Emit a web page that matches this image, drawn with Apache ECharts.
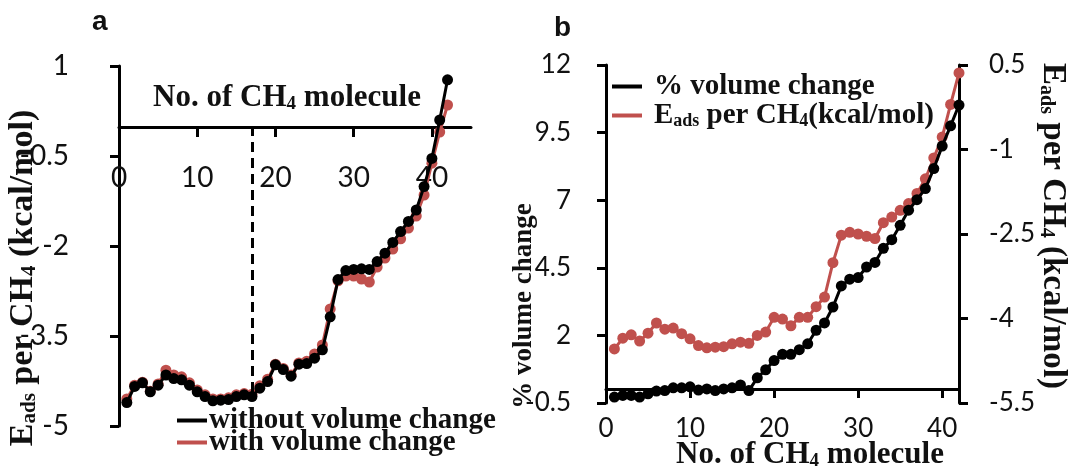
<!DOCTYPE html>
<html>
<head>
<meta charset="utf-8">
<script src="https://cdn.jsdelivr.net/npm/echarts@6/dist/echarts.min.js"></script>
<style>
html,body{margin:0;padding:0;background:#fff;}
#c{width:1069px;height:469px;}
</style>
</head>
<body>
<div id="c"></div>
<script>
// ---------- data ----------
const molecules = [1,2,3,4,5,6,7,8,9,10,11,12,13,14,15,16,17,18,19,20,21,22,23,24,25,26,27,28,29,30,31,32,33,34,35,36,37,38,39,40,41,42];

// panel a: Eads per CH4 (kcal/mol)
const aWithoutVol = [-4.61,-4.34,-4.28,-4.43,-4.32,-4.15,-4.21,-4.23,-4.32,-4.43,-4.51,-4.58,-4.57,-4.56,-4.51,-4.48,-4.51,-4.37,-4.26,-3.98,-4.06,-4.17,-3.97,-3.96,-3.87,-3.73,-3.18,-2.56,-2.41,-2.39,-2.38,-2.39,-2.26,-2.12,-1.94,-1.76,-1.59,-1.40,-1.01,-0.54,0.10,0.77];
const aWithVol = [-4.55,-4.32,-4.27,-4.42,-4.30,-4.07,-4.15,-4.18,-4.28,-4.40,-4.48,-4.55,-4.55,-4.53,-4.48,-4.46,-4.47,-4.33,-4.22,-3.97,-4.04,-4.15,-3.95,-3.92,-3.80,-3.65,-3.05,-2.58,-2.50,-2.50,-2.55,-2.60,-2.35,-2.20,-2.05,-1.88,-1.70,-1.50,-1.15,-0.62,-0.10,0.35];
const aDashedAt = 17;

// panel b
const bVolumeChange = [-0.28,-0.22,-0.22,-0.28,-0.16,-0.06,-0.04,0.06,0.06,0.10,-0.02,0.02,-0.04,0.02,0.06,0.17,-0.04,0.43,0.73,1.07,1.30,1.30,1.47,1.69,2.19,2.46,3.05,3.83,4.08,4.14,4.53,4.70,5.22,5.54,6.07,6.63,7.02,7.43,8.17,9.00,9.75,10.52];
const bEads = [-4.54,-4.35,-4.29,-4.40,-4.26,-4.08,-4.19,-4.17,-4.27,-4.36,-4.48,-4.52,-4.51,-4.50,-4.45,-4.42,-4.44,-4.30,-4.24,-3.98,-4.01,-4.13,-3.98,-3.98,-3.79,-3.62,-3.01,-2.52,-2.47,-2.50,-2.54,-2.58,-2.30,-2.20,-2.08,-1.96,-1.78,-1.52,-1.15,-0.78,-0.20,0.36];

// tick labels
const aXTicks = [0,10,20,30,40];
const aYTicks = [-5,-3.5,-2,-0.5,1];
const bXTicks = [0,10,20,30,40];
const bLeftTicks = [-0.5,2,4.5,7,9.5,12];
const bRightTicks = [-5.5,-4,-2.5,-1,0.5];

// names
const nameA1 = 'without volume change';
const nameA2 = 'with volume change';
const nameB1 = '% volume change';
const nameB2 = 'Eads per CH4(kcal/mol)';

// ---------- style ----------
const RED = '#c0504d';
const BLACK = '#000';
const SERIF = 'Liberation Serif';
const SANS = 'Lato';

function richStyles(fs){
  return {
    t:{fontFamily:SERIF,fontWeight:'bold',fontSize:fs,color:'#111'},
    s:{fontFamily:SERIF,fontWeight:'bold',fontSize:Math.round(fs*0.62),color:'#111',padding:[Math.round(fs*0.42),0,0,0]}
  };
}
const pair = arr => molecules.map((m,i)=>[m,arr[i]]);

function titleText(txt,x,y,rot,fs){
  return {
    type:'text', x:x, y:y, rotation:rot||0,
    style:{
      text:txt, rich:richStyles(fs),
      fontFamily:SERIF, fontWeight:'bold', fontSize:fs, fill:'#111',
      align:'center', verticalAlign:'middle'
    }
  };
}

const chart = echarts.init(document.getElementById('c'), null, {renderer:'canvas'});

const axisLineStyle = {color:BLACK,width:3};
const tickStyle = {color:BLACK,width:3};

const option = {
  backgroundColor:'#fff',
  animation:false,
  grid:[
    {left:119, top:66, width:352, height:360},   // panel a data
    {left:606, top:65, width:353, height:338},   // panel b data
    {left:119, top:66, width:352, height:61},    // panel a: x axis sitting at y = 0
    {left:606, top:65, width:353, height:324}    // panel b: x axis sitting at y = 0
  ],
  xAxis:[
    {gridIndex:0,type:'value',min:0,max:45,show:false},
    {gridIndex:1,type:'value',min:0,max:42,show:false},
    {gridIndex:2,type:'value',min:0,max:45,position:'bottom',
      axisLine:{show:true,onZero:false,lineStyle:axisLineStyle},
      axisTick:{show:true,inside:false,length:10,lineStyle:tickStyle,customValues:aXTicks},
      axisLabel:{show:true,customValues:aXTicks,margin:37,fontFamily:SANS,fontSize:28,color:'#111'},
      splitLine:{show:false}},
    {gridIndex:3,type:'value',min:0,max:42,position:'bottom',
      axisLine:{show:true,onZero:false,lineStyle:axisLineStyle},
      axisTick:{show:true,inside:false,length:9,lineStyle:tickStyle,customValues:bXTicks},
      axisLabel:{show:true,customValues:bXTicks,margin:27,fontFamily:SANS,fontSize:26,color:'#111'},
      splitLine:{show:false}}
  ],
  yAxis:[
    {gridIndex:0,type:'value',min:-5,max:1,
      axisLine:{show:true,onZero:false,lineStyle:axisLineStyle},
      axisTick:{show:true,inside:false,length:9,lineStyle:tickStyle,customValues:aYTicks},
      axisLabel:{show:true,customValues:aYTicks,margin:50,fontFamily:SANS,fontSize:28,color:'#111'},
      splitLine:{show:false}},
    {gridIndex:1,type:'value',min:-0.5,max:12,position:'left',
      axisLine:{show:true,onZero:false,lineStyle:axisLineStyle},
      axisTick:{show:true,inside:false,length:9,lineStyle:tickStyle,customValues:bLeftTicks},
      axisLabel:{show:true,customValues:bLeftTicks,margin:35,fontFamily:SANS,fontSize:26,color:'#111'},
      splitLine:{show:false}},
    {gridIndex:1,type:'value',min:-5.5,max:0.5,position:'right',
      axisLine:{show:true,onZero:false,lineStyle:axisLineStyle},
      axisTick:{show:true,inside:false,length:9,lineStyle:tickStyle,customValues:bRightTicks},
      axisLabel:{show:true,customValues:bRightTicks,margin:30,fontFamily:SANS,fontSize:26,color:'#111'},
      splitLine:{show:false}},
    {gridIndex:2,type:'value',min:0,max:1,show:false},
    {gridIndex:3,type:'value',min:0,max:1,show:false}
  ],
  legend:[
    {data:[nameA1,nameA2], orient:'vertical', left:177, top:406, itemGap:-7,
      icon:'rect', itemWidth:30, itemHeight:4, padding:0,
      textStyle:{fontFamily:SERIF,fontWeight:'bold',fontSize:29,color:'#111',lineHeight:22,padding:[0,0,0,-3]}},
    {data:[nameB1,nameB2], orient:'vertical', left:612, top:72, itemGap:0,
      icon:'rect', itemWidth:30, itemHeight:4, padding:0,
      formatter: n => n===nameB2 ? '{t|E}{s|ads}{t| per CH}{s|4}{t|(kcal/mol)}' : n,
      textStyle:{fontFamily:SERIF,fontWeight:'bold',fontSize:29,color:'#111',lineHeight:26,padding:[0,0,0,7],
        rich:richStyles(29)}}
  ],
  graphic:[
    {type:'text',x:92,y:8,style:{text:'a',fontFamily:'Liberation Sans',fontWeight:'bold',fontSize:28,fill:'#111'}},
    {type:'text',x:554,y:14,style:{text:'b',fontFamily:'Liberation Sans',fontWeight:'bold',fontSize:28,fill:'#111'}},
    titleText('{t|No. of CH}{s|4}{t| molecule}',287,98,0,31),
    titleText('{t|E}{s|ads}{t| per CH}{s|4}{t| (kcal/mol)}',23,278,Math.PI/2,34),
    titleText('{t|No. of CH}{s|4}{t| molecule}',810,455,0,31),
    titleText('{t|% volume change}',524,306,Math.PI/2,27),
    titleText('{t|E}{s|ads}{t| per CH}{s|4}{t| (kcal/mol)}',1053,226,-Math.PI/2,33)
  ],
  series:[
    {name:nameA2,type:'line',xAxisIndex:0,yAxisIndex:0,data:pair(aWithVol),
      symbol:'circle',symbolSize:11,color:RED,lineStyle:{color:RED,width:3},itemStyle:{color:RED},z:2},
    {name:nameA1,type:'line',xAxisIndex:0,yAxisIndex:0,data:pair(aWithoutVol),
      symbol:'circle',symbolSize:11,color:BLACK,lineStyle:{color:BLACK,width:3},itemStyle:{color:BLACK},z:3,
      markLine:{silent:true,symbol:['none','none'],label:{show:false},
        lineStyle:{color:BLACK,width:3,type:[10,6]},
        data:[[{coord:[aDashedAt,0]},{coord:[aDashedAt,aWithoutVol[aDashedAt-1]]}]]}},
    {name:nameB1,type:'line',xAxisIndex:1,yAxisIndex:1,data:pair(bVolumeChange),
      symbol:'circle',symbolSize:11,color:BLACK,lineStyle:{color:BLACK,width:3},itemStyle:{color:BLACK},z:3},
    {name:nameB2,type:'line',xAxisIndex:1,yAxisIndex:2,data:pair(bEads),
      symbol:'circle',symbolSize:11,color:RED,lineStyle:{color:RED,width:3},itemStyle:{color:RED},z:2}
  ]
};
chart.setOption(option);
</script>
</body>
</html>
